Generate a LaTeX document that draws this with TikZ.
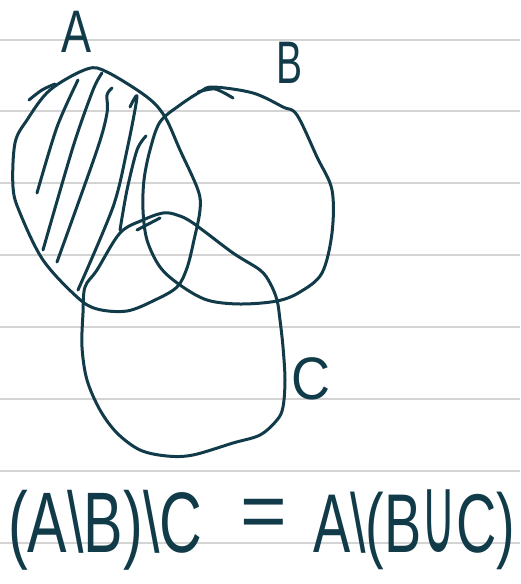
\documentclass[tikz,border=0pt]{standalone}
\usepackage{fontspec}
\setmainfont{Liberation Sans}
\newfontfamily\symfont{DejaVu Sans}
\definecolor{ink}{HTML}{123B4A}
\definecolor{rule}{HTML}{D4D4D4}
\begin{document}
\begin{tikzpicture}[x=1pt,y=-1pt,
  pen/.style={draw=ink,line width=3pt,line cap=round,line join=round},
  paperline/.style={draw=rule,line width=2.2pt},
  lbl/.style={text=ink,inner sep=0pt,font=\fontsize{60}{60}\selectfont},
  formula/.style={text=ink,inner sep=0pt}]
\path[use as bounding box, fill=white] (0,0) rectangle (520,584);
\foreach \y in {40,111,183,255,327,399,471,543} \draw[paperline] (0,\y) -- (520,\y);
% set A
\draw[pen] plot[smooth cycle, tension=0.55] coordinates {(87,69) (107,72) (147,97) (165,117) (180,150) (198,190) (200,210) (194,240) (187,268) (177,287) (155,300) (127,311) (97,309) (77,297) (43,260) (20,213) (13,187) (15,143) (27,120) (50,90)};
\draw[pen] plot[smooth, tension=0.6] coordinates {(29,100) (42,90) (55,84)};
% hatching
\draw[pen] plot[smooth] coordinates {(78,80) (57,127) (37,193)};
\draw[pen] plot[smooth] coordinates {(102,73) (93,90) (73,147) (43,250)};
\draw[pen] plot[smooth] coordinates {(112,88) (107,95) (107,113) (97,150) (57,262)};
\draw[pen] plot[smooth] coordinates {(130,107) (137,97) (127,150) (113,207) (78,290)};
\draw[pen] plot[smooth] coordinates {(146,136) (137,150) (127,190) (120,230)};
% set B
\draw[pen] plot[smooth cycle, tension=0.55] coordinates {(213,87) (253,93) (283,107) (297,115) (317,157) (332,190) (332,233) (322,273) (300,292) (277,301) (240,304) (207,300) (180,285) (160,267) (147,240) (143,210) (144,180) (150,150) (160,122) (180,105) (200,92)};
\draw[pen] plot[smooth] coordinates {(233,98) (215,89) (198,92)};
% set C
\draw[pen] plot[smooth cycle, tension=0.55] coordinates {(163,213) (177,215) (193,223) (233,253) (260,270) (270,283) (277,300) (280,320) (283,347) (285,380) (283,407) (277,420) (260,435) (233,443) (193,455) (167,456) (140,450) (117,433) (100,410) (87,380) (82,347) (83,313) (85,287) (97,270) (120,233) (143,220)};
\draw[pen] plot[smooth] coordinates {(137,230) (160,218)};
% labels
\node[lbl] (la) at (77,32) {\scalebox{0.75}[1]{A}};
\node[lbl] (lb) at (290,63) {\scalebox{0.65}[1]{B}};
\node[lbl] (lc) at (311,379) {\scalebox{0.9}[1]{C}};
% formula
\node[formula, anchor=west] (lhs) at (8,530) {\resizebox*{194pt}{80pt}{(A\textbackslash B)\textbackslash C}};
\node[formula, anchor=base, font=\fontsize{80}{80}\selectfont] (eq) at (264,538) {=};
\node[formula, anchor=west] (rhs) at (313,530) {\resizebox*{202pt}{80pt}{A\textbackslash(B\scalebox{0.85}[1.3]{\symfont ∪}C)}};
\end{tikzpicture}
\end{document}
